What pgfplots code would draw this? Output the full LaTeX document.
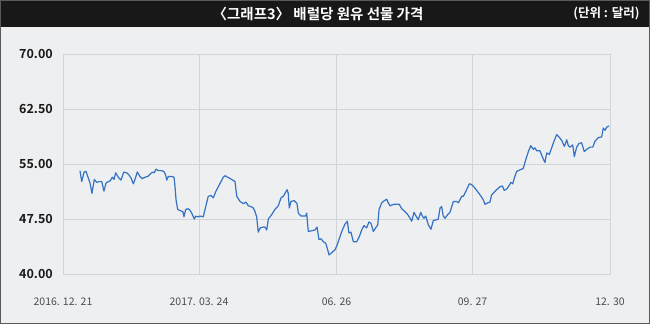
\documentclass[border=0pt]{standalone}
\usepackage{fontspec}
\setmainfont{Noto Sans CJK KR}[BoldFont={Noto Sans CJK KR Bold}]
\usepackage{pgfplots}
\pgfplotsset{compat=1.18}
\definecolor{panel}{RGB}{238,239,241}
\definecolor{gridc}{RGB}{210,212,216}
\definecolor{linec}{RGB}{52,114,196}
\definecolor{bar}{RGB}{24,24,24}
\definecolor{frame}{RGB}{90,90,90}
\begin{document}
\begin{tikzpicture}[x=1bp,y=1bp]
\useasboundingbox (-63,-50) rectangle (587,274);
\fill[panel] (-63,-50) rectangle (587,274);
\fill[bar] (-63,247) rectangle (587,274);
\draw[frame,line width=1bp] (-62.5,-49.5) rectangle (586.5,273.5);
\node[text=white,font=\bfseries\fontsize{14.5bp}{16bp}\selectfont] at (255,260.5) {〈그래프3〉 배럴당 원유 선물 가격};
\node[text=white,font=\bfseries\fontsize{12.5bp}{15bp}\selectfont,anchor=east] at (580,260.5) {(단위 : 달러)};
\begin{axis}[
  scale only axis, width=547bp, height=220bp,
  xmin=0, xmax=374, ymin=40, ymax=70,
  xtick={0,93,187,280,374},
  xticklabels={2016. 12. 21, 2017. 03. 24, 06. 26, 09. 27, 12. 30},
  ytick={40,47.5,55,62.5,70},
  yticklabels={40.00,47.50,55.00,62.50,70.00},
  grid=major,
  major grid style={gridc, line width=0.8bp},
  axis line style={gridc, line width=0.8bp},
  tick style={draw=none},
  xticklabel style={anchor=center, yshift=-28bp, inner sep=0pt, text=black!70, font=\fontsize{10.5bp}{12bp}\selectfont},
  yticklabel style={anchor=east, xshift=-10bp, inner sep=0pt, text=black!90, font=\bfseries\fontsize{12.5bp}{14bp}\selectfont},
  axis background/.style={fill=panel},
  clip=false,
]
\addplot[linec, line width=1.2bp, line join=round] coordinates {
(11.6,54.1)(12.8,52.6)(14.4,53.9)(15.7,54.0)(17.3,53.1)(18.5,52.4)(19.8,51.0)(21.4,52.9)(23.0,52.5)(24.6,52.6)
(26.5,52.6)(28.0,51.3)(29.4,52.4)(31.0,52.6)(32.3,52.7)(33.7,53.2)(34.9,52.9)(36.0,53.8)(37.8,53.2)(39.7,52.8)
(41.5,53.9)(43.6,53.8)(45.1,53.5)(46.5,53.1)(48.1,52.3)(49.4,53.0)(50.8,53.9)(52.6,53.3)(54.2,53.0)(56.1,53.2)
(57.9,53.3)(59.5,53.6)(61.1,53.9)(62.4,53.8)(63.6,54.3)(65.2,54.1)(67.0,54.1)(68.9,54.0)(70.2,53.5)(70.9,52.8)
(72.0,53.3)(74.3,53.3)(75.9,53.2)(76.6,51.9)(77.3,50.1)(78.4,48.8)(80.7,48.6)(82.0,48.5)(82.7,47.8)(83.9,48.8)
(85.7,48.9)(86.8,48.7)(88.0,48.3)(89.8,47.5)(90.7,47.9)(92.1,47.8)(93.7,47.9)(95.9,47.8)(97.6,49.2)(99.3,50.6)
(101.2,50.7)(102.8,50.4)(104.6,51.3)(106.2,51.9)(108.0,52.6)(109.6,53.2)(110.8,53.4)(112.6,53.2)(115.3,52.9)(117.6,52.6)
(118.8,50.6)(121.0,49.9)(123.3,49.6)(125.1,49.8)(126.7,49.3)(128.5,49.2)(130.1,49.0)(131.3,48.5)(132.4,47.8)(133.5,45.7)
(134.9,46.3)(136.9,46.4)(138.1,46.4)(139.3,46.0)(140.4,47.5)(142.7,48.1)(144.9,48.8)(147.2,49.3)(149.1,50.4)(150.6,50.6)
(151.8,51.0)(153.2,51.5)(154.0,51.0)(154.7,49.0)(155.9,49.9)(158.1,50.0)(160.0,49.6)(160.9,48.3)(162.7,47.9)(164.3,47.9)
(165.9,47.9)(166.6,48.3)(167.7,45.8)(170.0,45.9)(172.3,46.0)(173.7,46.4)(175.0,44.7)(176.4,44.8)(178.0,44.4)(179.6,44.2)
(180.7,43.5)(181.9,42.6)(183.7,42.9)(186.0,43.3)(187.5,44.0)(189.4,45.1)(191.0,46.0)(192.8,46.8)(194.4,47.2)(195.5,45.6)
(196.9,45.7)(198.5,44.4)(200.8,44.4)(202.6,45.1)(204.2,46.0)(205.8,46.6)(207.6,46.3)(209.2,47.1)(210.6,46.9)(212.2,45.8)
(213.8,46.3)(215.2,46.7)(216.1,48.8)(217.9,49.7)(219.7,50.0)(221.3,50.2)(222.4,49.7)(223.6,49.3)(224.7,49.4)(226.3,49.5)
(228.2,49.5)(229.9,49.5)(231.6,48.9)(233.8,48.5)(235.7,48.1)(237.3,47.6)(238.4,47.2)(240.0,48.4)(241.4,47.9)(242.9,47.4)
(244.6,48.4)(245.7,47.9)(246.8,47.6)(248.0,47.9)(249.8,46.7)(251.6,46.1)(253.2,47.3)(255.5,47.4)(256.6,47.5)(257.8,49.0)
(258.9,49.2)(260.0,47.9)(261.2,47.6)(263.0,48.1)(264.6,48.4)(265.8,49.2)(266.9,49.9)(269.2,49.9)(270.3,49.7)(271.4,50.1)
(272.6,50.6)(273.7,50.6)(275.5,51.3)(277.8,52.3)(279.4,52.2)(281.7,51.7)(284.0,51.1)(285.8,50.6)(287.4,50.1)(288.5,49.5)
(290.4,49.7)(291.9,49.8)(293.1,50.8)(294.2,51.0)(295.4,51.3)(296.5,51.5)(298.8,51.9)(300.4,52.0)(301.7,51.4)(303.4,51.6)
(304.5,51.9)(306.3,52.5)(307.5,52.3)(308.6,53.1)(310.2,54.0)(312.5,54.2)(314.7,54.4)(316.4,55.6)(318.2,56.7)(319.8,57.5)
(321.6,57.0)(322.7,57.2)(323.9,56.8)(326.1,56.8)(327.7,56.0)(329.5,55.2)(330.7,56.5)(332.5,56.3)(334.1,57.2)(335.9,58.2)
(337.5,59.0)(339.1,58.7)(341.0,58.2)(342.8,57.4)(344.4,58.3)(345.5,57.5)(346.6,57.3)(348.5,57.6)(349.6,56.0)(351.2,57.3)
(352.8,57.8)(354.6,57.9)(356.4,56.7)(358.1,57.0)(360.3,57.3)(362.2,57.3)(363.7,58.1)(366.0,58.6)(368.3,58.7)(369.4,59.9)
(370.6,59.6)(371.7,60.0)(373.3,60.2)
};
\end{axis}
\end{tikzpicture}
\end{document}
